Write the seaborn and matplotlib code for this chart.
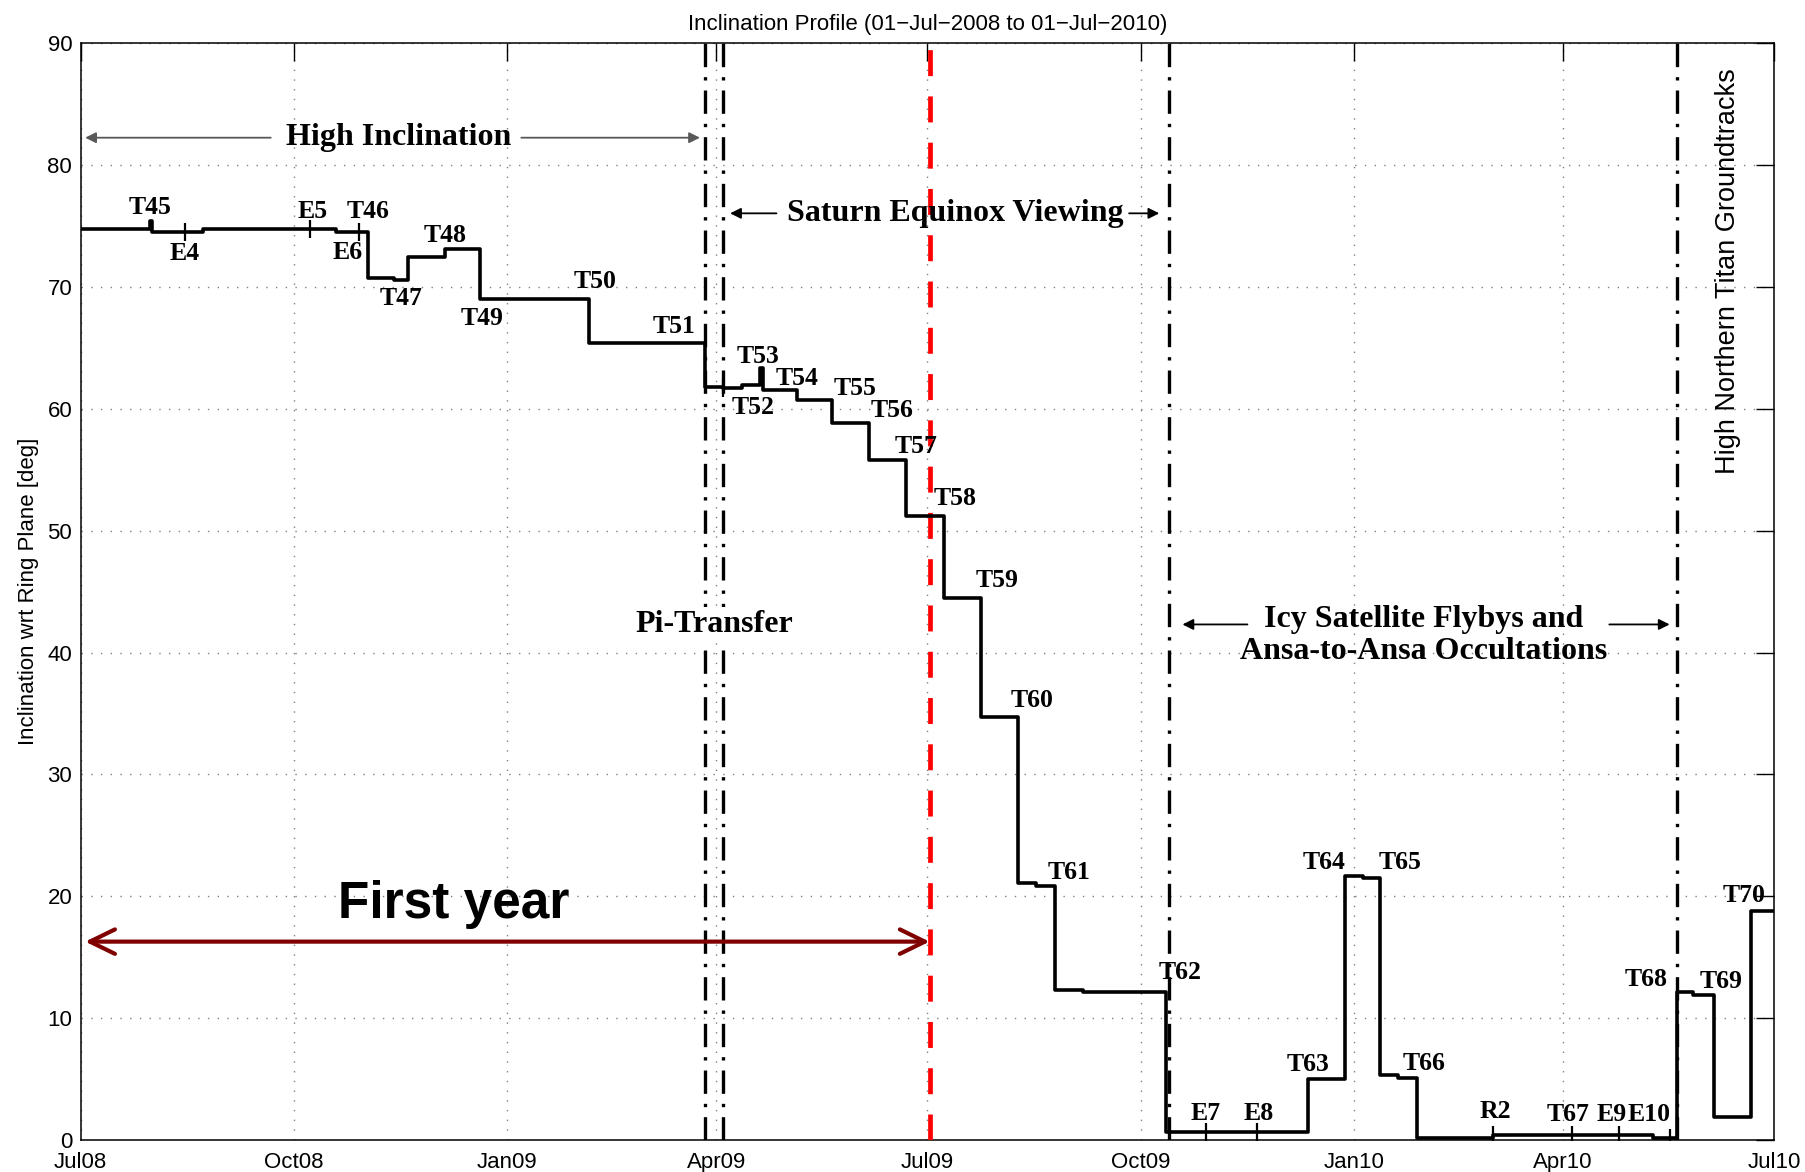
import numpy as np
import pandas as pd
import seaborn as sns
import matplotlib.pyplot as plt
import matplotlib.dates as mdates
from matplotlib import font_manager

# inclination profile: date of each change and the inclination after it
step_dates = ['2008-07-01', '2008-07-31', '2008-08-01', '2008-08-23', '2008-10-19',
              '2008-11-02', '2008-11-13', '2008-11-19', '2008-12-05', '2008-12-20',
              '2009-02-05', '2009-03-27', '2009-04-04', '2009-04-12', '2009-04-20',
              '2009-04-21', '2009-05-06', '2009-05-21', '2009-06-06', '2009-06-22',
              '2009-07-08', '2009-07-24', '2009-08-09', '2009-08-17', '2009-08-25',
              '2009-09-06', '2009-10-12', '2009-12-12', '2009-12-28', '2010-01-05',
              '2010-01-12', '2010-01-20', '2010-01-28', '2010-03-02', '2010-05-10',
              '2010-05-20', '2010-05-27', '2010-06-05', '2010-06-21', '2010-07-01']
step_incl = [74.75, 75.4, 74.45, 74.7, 74.5,
             70.7, 70.5, 72.45, 73.05, 69.0,
             65.4, 61.8, 61.65, 61.9, 63.3,
             61.5, 60.7, 58.8, 55.8, 51.2,
             44.5, 34.75, 21.1, 20.85, 12.3,
             12.15, 0.7, 5.0, 21.7, 21.55,
             5.35, 5.1, 0.2, 0.45, 0.2,
             12.2, 11.95, 1.95, 18.85, 18.85]

# small tick marks on the curve (non-Titan flybys)
mark_dates = ['2008-08-15', '2008-10-08', '2008-10-29', '2009-04-04', '2009-10-29',
              '2009-11-20', '2010-03-02', '2010-04-05', '2010-04-25', '2010-05-17']

# flyby labels
fly_names = ['T45', 'E4', 'E5', 'T46', 'E6', 'T47', 'T48', 'T49', 'T50', 'T51',
             'T52', 'T53', 'T54', 'T55', 'T56', 'T57', 'T58', 'T59', 'T60', 'T61',
             'T62', 'E7', 'E8', 'T63', 'T64', 'T65', 'T66', 'R2', 'T67', 'E9',
             'E10', 'T68', 'T69', 'T70']
fly_dates = ['2008-07-31', '2008-08-15', '2008-10-09', '2008-11-02', '2008-10-24',
             '2008-11-16', '2008-12-05', '2008-12-21', '2009-02-08', '2009-03-14',
             '2009-04-17', '2009-04-19', '2009-05-06', '2009-05-31', '2009-06-16',
             '2009-06-26', '2009-07-13', '2009-07-31', '2009-08-15', '2009-08-31',
             '2009-10-18', '2009-10-29', '2009-11-21', '2009-12-12', '2009-12-19',
             '2010-01-21', '2010-01-31', '2010-03-03', '2010-04-03', '2010-04-22',
             '2010-05-08', '2010-05-07', '2010-06-08', '2010-06-18']
fly_incl = [76.5, 72.7, 76.15, 76.15, 72.8, 69.0, 74.2, 67.4, 70.45, 66.7,
            60.1, 64.25, 62.5, 61.65, 59.8, 56.9, 52.6, 45.9, 36.05, 22.0,
            13.8, 2.2, 2.2, 6.2, 22.8, 22.8, 6.3, 2.36, 2.1, 2.1,
            2.1, 13.2, 13.0, 20.1]

# phase boundaries
phase_lines = ['2009-03-27', '2009-04-04', '2009-10-13', '2010-05-20']
first_year_end = '2009-07-02'

serif = 'Liberation Serif'
names = {f.name for f in font_manager.fontManager.ttflist}
sans = 'Liberation Sans'
narrow = 'Liberation Sans Narrow' if 'Liberation Sans Narrow' in names else sans
narrow_size = 23.5 if narrow != sans else 19.5

sns.set_style('white')
plt.rcParams['font.family'] = [sans, 'DejaVu Sans']
plt.rcParams['text.color'] = 'black'
plt.rcParams['axes.labelcolor'] = 'black'

fig = plt.figure(figsize=(18.06, 11.72), dpi=100)
ax = fig.add_axes([0.0446, 0.0269, 0.9377, 0.9368])

df = pd.DataFrame({'date': pd.to_datetime(step_dates), 'incl': step_incl})
sns.lineplot(data=df, x='date', y='incl', drawstyle='steps-post', color='black',
             lw=2.6, estimator=None, sort=False, ax=ax, zorder=5)

prof = pd.Series(step_incl, index=pd.to_datetime(step_dates))
marks = pd.DataFrame({'date': pd.to_datetime(mark_dates)})
marks['incl'] = [prof[:d].iloc[-1] for d in marks['date']]
ax.plot(marks['date'], marks['incl'], ls='none', marker='|', ms=13, mew=1.6,
        color='black', zorder=6)

def dn(d):
    return mdates.date2num(pd.Timestamp(d))

# vertical phase lines
for d in phase_lines:
    ax.axvline(dn(d), color='black', lw=2.4, ls=(0, (7, 3, 1, 3)), zorder=3)
ax.axvline(dn(first_year_end), color='red', lw=3.4, ls=(0, (5.5, 4.3)), zorder=4)

for n, d, v in zip(fly_names, fly_dates, fly_incl):
    ax.text(dn(d), v, n, ha='center', va='center', fontsize=18.5,
            family=serif, weight='bold', zorder=7)

big = dict(fontsize=23, family=serif, weight='bold', zorder=7)
ax.text(dn('2008-11-15'), 82.2, 'High Inclination', ha='center', va='center', **big)
ax.text(dn('2009-07-13'), 76.0, 'Saturn Equinox Viewing', ha='center', va='center', **big)
ax.text(dn('2009-03-31'), 42.3, 'Pi-Transfer', ha='center', va='center',
        bbox=dict(facecolor='white', edgecolor='none', pad=2), **big)
ax.text(dn('2010-01-31'), 42.7, 'Icy Satellite Flybys and', ha='center', va='center', **big)
ax.text(dn('2010-01-31'), 40.05, 'Ansa-to-Ansa Occultations', ha='center', va='center', **big)
ax.text(dn('2010-06-11'), 71.3, 'High Northern Titan Groundtracks', rotation=90,
        ha='center', va='center', fontsize=narrow_size, family=narrow, zorder=7)

arrows = [(('2008-09-21', 82.2), ('2008-07-03', 82.2), '0.35'),
          (('2009-01-07', 82.2), ('2009-03-25', 82.2), '0.35'),
          (('2009-04-27', 76.0), ('2009-04-07', 76.0), 'black'),
          (('2009-09-26', 76.0), ('2009-10-09', 76.0), 'black'),
          (('2009-11-16', 42.3), ('2009-10-19', 42.3), 'black'),
          (('2010-04-21', 42.3), ('2010-05-17', 42.3), 'black')]
for (t, ty), (h, hy), c in arrows:
    ax.annotate('', xy=(dn(h), hy), xytext=(dn(t), ty),
                arrowprops=dict(arrowstyle='-|>', color=c, lw=1.3,
                                mutation_scale=16, shrinkA=0, shrinkB=0), zorder=7)

# first year arrow
ax.annotate('', xy=(dn('2008-07-03'), 16.3), xytext=(dn(first_year_end), 16.3),
            arrowprops=dict(arrowstyle='<->,head_length=0.45,head_width=0.22',
                            color='#800000', lw=3.0, mutation_scale=40,
                            shrinkA=0, shrinkB=0), zorder=8)
ax.text(dn('2008-12-09'), 18.2, 'First year', ha='center', va='baseline',
        fontsize=37, weight='bold', family=sans, color='black', zorder=8)

ax.set_xlim(dn('2008-07-01'), dn('2010-07-01'))
ax.set_ylim(0, 90)
ax.set_xticks(pd.date_range('2008-07-01', '2010-07-01', freq='3MS'))
ax.xaxis.set_major_formatter(mdates.DateFormatter('%b%y'))
ax.set_yticks(np.arange(0, 91, 10))
ax.tick_params(direction='in', length=13, width=1, top=True, right=True,
               labelsize=16, colors='black')
ax.tick_params(axis='x', pad=8)
ax.tick_params(axis='y', pad=6)
ax.grid(True, color='0.5', ls=(0, (1, 6)), lw=1)
for s in ax.spines.values():
    s.set_color('black')
    s.set_linewidth(1.1)
ax.set_xlabel('')
ax.set_ylabel('Inclination wrt Ring Plane [deg]', fontsize=16, labelpad=6)
ax.set_title('Inclination Profile (01\u2212Jul\u22122008 to 01\u2212Jul\u22122010)',
             fontsize=16, pad=9)

fig.savefig('out.png', dpi=100)
